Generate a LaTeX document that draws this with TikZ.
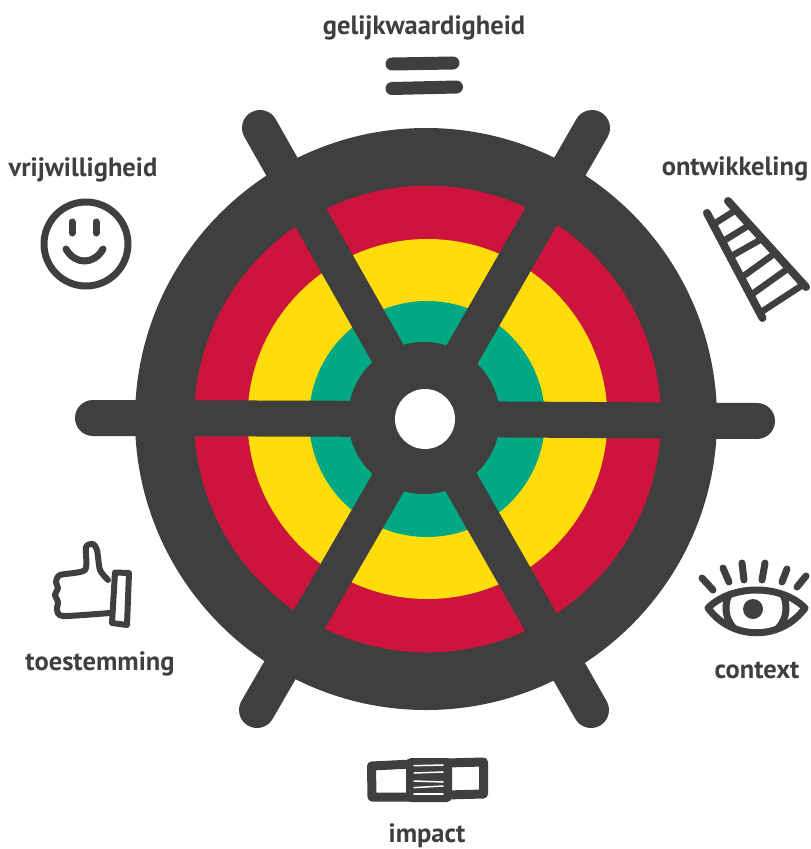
\documentclass[tikz,border=0pt]{standalone}
\usepackage{fontspec}
\setmainfont{PT Sans}
\definecolor{wheeldark}{HTML}{3F3F3F}
\definecolor{ringred}{HTML}{CC143C}
\definecolor{ringyellow}{HTML}{FFDC0A}
\definecolor{ringgreen}{HTML}{00A984}
\begin{document}
\begin{tikzpicture}[x=1pt,y=-1pt,line cap=round,line join=round,
	spoke/.style={color=wheeldark,line width=36pt},
	icon/.style={color=wheeldark,line width=7pt},
	caption/.style={color=wheeldark,font=\fontsize{26.5}{30}\selectfont\bfseries}]
\useasboundingbox (0,0) rectangle (811,849);
% wheel
\fill[color=ringred] (427.5,419) circle[radius=236];
\fill[color=ringyellow] (427.5,419) circle[radius=180];
\fill[color=ringgreen] (427,419) circle[radius=118];
\fill[color=wheeldark,even odd rule] (426,419) circle[radius=291] (427.5,419) circle[radius=233.5];
\foreach \a/\b in {93/418,260/128,592/128,757/421,591/710,257/710}{
	\draw[spoke] (425,419) -- (\a,\b);
}
\fill[color=wheeldark] (424,418) circle[radius=76];
\fill[color=white] (425,419) circle[radius=30];
% equals
\draw[icon,line width=13pt] (392,64) -- (453,63);
\draw[icon,line width=13pt] (392,88.5) -- (456.5,87);
% smiley
\draw[icon] (86,244) circle[radius=42];
\draw[icon] (72,222) -- (72,233);
\draw[icon] (96,222) -- (96,233);
\draw[icon] (66,249) .. controls (75,265) and (94,265) .. (103,249);
% ladder
\draw[icon,line width=8pt] (707,213) -- (762.5,318);
\draw[icon,line width=8pt] (728,201) -- (806,287);
\foreach \a/\b/\c/\d in {715/223.3/733.3/211.7,725/240/746.7/226.7,733.3/255/760/240,745/275/775/253.3,753.3/293.3/788.3/268.3,761.7/311.7/800/286.7}{
	\draw[icon,line width=6.5pt] (\a,\b) -- (\c,\d);
}
% eye
\draw[icon] (708,608) .. controls (732,584) and (781,584) .. (805,608)
	.. controls (781,641) and (732,641) .. cycle;
\begin{scope}
\clip (708,608) .. controls (732,584) and (781,584) .. (805,608)
	.. controls (781,641) and (732,641) .. cycle;
\draw[icon] (756,608) circle[radius=30];
\end{scope}
\fill[color=wheeldark] (753,609) circle[radius=10];
\foreach \a/\b/\c/\d in {702/578/713/590,723/568/729/582,742/563/744/580,765/563/762/580,787/569/782/582,806/576/797/587}{
	\draw[icon] (\a,\b) -- (\c,\d);
}
% plaster
\draw[icon,line width=9pt] (371.5,766) -- (412,764) -- (412,797) -- (372,797) -- cycle;
\draw[icon,line width=9pt] (446,763) -- (483.5,762) -- (483.5,794) -- (446,795) -- cycle;
\fill[color=wheeldark,rounded corners=5pt] (406,758) rectangle (452,802);
\foreach \a/\b in {765.7/765,773/772,781/782,787.6/786,794/794}{
	\draw[color=white,line width=1.5pt] (414,\a) -- (443,\b);
}
% thumb
\draw[icon,line width=6pt] plot[smooth,tension=0.4] coordinates {(108,580) (100,570) (97,550) (93,544) (86,547) (85,570) (60,575) (56,582) (58,588) (55,595) (58,602) (57,610) (63,616) (110,613)};
\draw[icon,line width=6pt] (115,572.5) -- (129,573) -- (127,625) -- (112,623) -- cycle;
% labels
\node[caption] (gelijkwaardigheid) at (424,28) {gelijkwaardigheid};
\node[caption] (vrijwilligheid) at (83,170) {vrijwilligheid};
\node[caption] (ontwikkeling) at (735,169) {ontwikkeling};
\node[caption] (context) at (757,670) {context};
\node[caption,inner sep=0pt] (impact) at (427,835.5) {impact};
\node[caption] (toestemming) at (100,664) {toestemming};
\end{tikzpicture}
\end{document}
